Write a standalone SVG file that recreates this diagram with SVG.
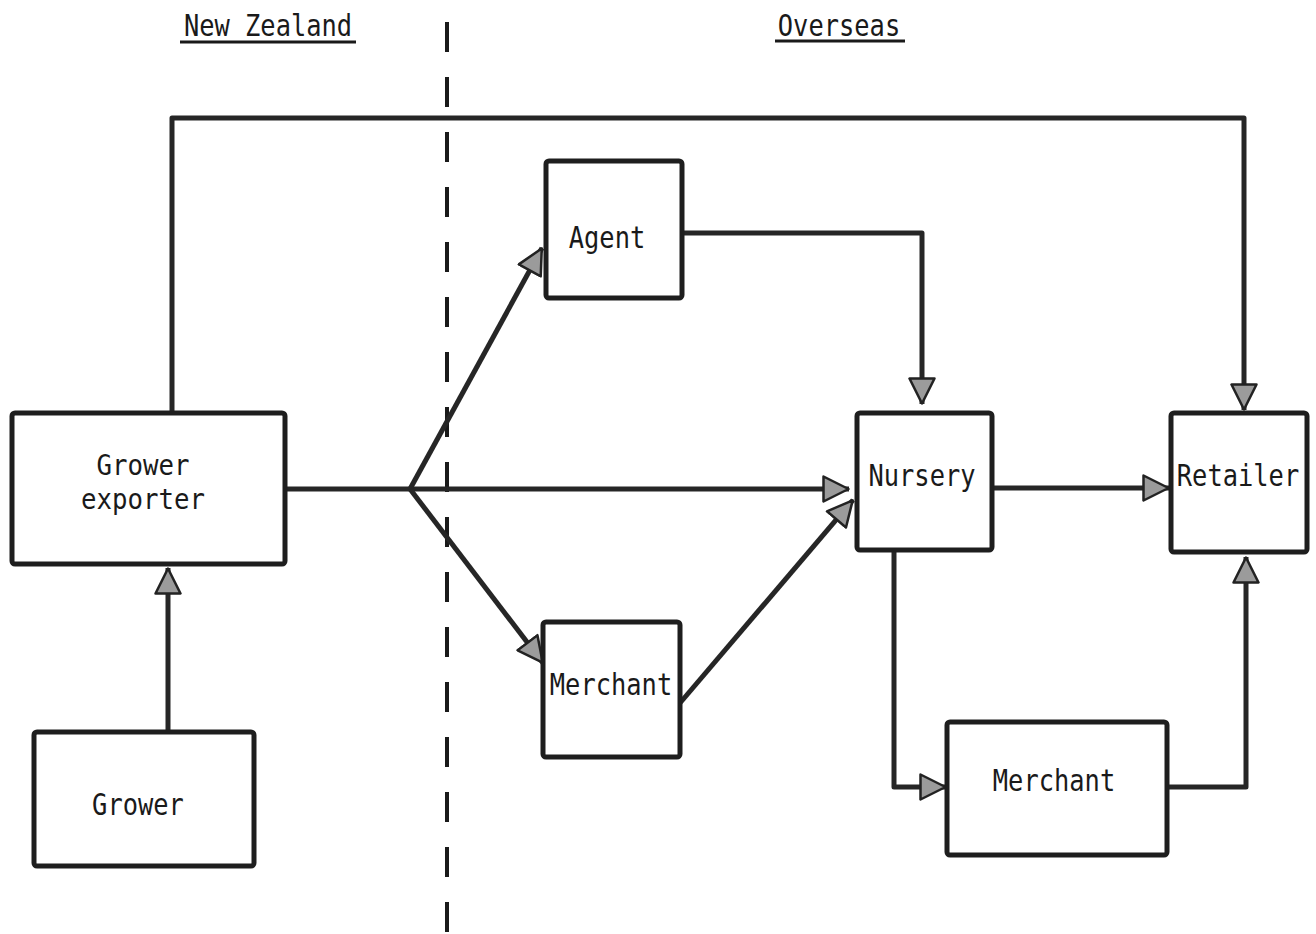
<svg xmlns="http://www.w3.org/2000/svg" width="1316" height="934" viewBox="0 0 1316 934">
<style>
.box{fill:#fff;stroke:#1e1e1e;stroke-width:5;stroke-linejoin:round}
.lbl{font-family:"DejaVu Sans Mono","Liberation Mono",monospace;font-size:31px;fill:#1a1a1a;text-anchor:middle}
.sm{font-size:28px}
.con{fill:none;stroke:#262626;stroke-width:5;stroke-linejoin:round}
.ul{stroke:#1a1a1a;stroke-width:3}
</style>
<defs>
<marker id="arr" viewBox="0 0 28 28" refX="27" refY="14" markerWidth="28" markerHeight="28" markerUnits="userSpaceOnUse" orient="auto">
<path d="M1.5,1.5 L26.5,14 L1.5,26.5 Z" fill="#9b9b9b" stroke="#222" stroke-width="2.5" stroke-linejoin="round"/>
</marker>
</defs>
<rect width="1316" height="934" fill="#fff"/>
<g id="headers">
<text class="lbl" transform="translate(268,36) scale(0.82,1)">New Zealand</text>
<line class="ul" x1="180" y1="42" x2="356" y2="42"/>
<text class="lbl" transform="translate(839,36) scale(0.82,1)">Overseas</text>
<line class="ul" x1="775" y1="41" x2="905" y2="41"/>
<line x1="447" y1="22" x2="447" y2="934" stroke="#1a1a1a" stroke-width="4" stroke-dasharray="30 25"/>
</g>
<g id="connectors">
<path class="con" d="M168,732 V568" marker-end="url(#arr)"/>
<path class="con" d="M172,413 V118 H1244 V410" marker-end="url(#arr)"/>
<path class="con" d="M285,489 H410"/>
<path class="con" d="M410,489 H849" marker-end="url(#arr)"/>
<path class="con" d="M410,489 L542,248" marker-end="url(#arr)"/>
<path class="con" d="M410,489 L543,663" marker-end="url(#arr)"/>
<path class="con" d="M680,703 L853,500" marker-end="url(#arr)"/>
<path class="con" d="M683,233 H922 V404" marker-end="url(#arr)"/>
<path class="con" d="M992,488 H1169" marker-end="url(#arr)"/>
<path class="con" d="M894,550 V787 H946" marker-end="url(#arr)"/>
<path class="con" d="M1167,787 H1246 V557" marker-end="url(#arr)"/>
</g>
<g id="grower-exporter">
<rect class="box" x="12" y="413" width="273" height="151" rx="3"/>
<text class="lbl sm" transform="translate(143,475) scale(0.92,1)">Grower</text>
<text class="lbl sm" transform="translate(143,509) scale(0.92,1)">exporter</text>
</g>
<g id="grower">
<rect class="box" x="34" y="732" width="220" height="134" rx="3"/>
<text class="lbl" transform="translate(138,815) scale(0.82,1)">Grower</text>
</g>
<g id="agent">
<rect class="box" x="546" y="161" width="136" height="137" rx="3"/>
<text class="lbl" transform="translate(607,248) scale(0.82,1)">Agent</text>
</g>
<g id="merchant-1">
<rect class="box" x="543" y="622" width="137" height="135" rx="3"/>
<text class="lbl" transform="translate(611,695) scale(0.82,1)">Merchant</text>
</g>
<g id="nursery">
<rect class="box" x="857" y="413" width="135" height="137" rx="3"/>
<text class="lbl" transform="translate(922,486) scale(0.82,1)">Nursery</text>
</g>
<g id="retailer">
<rect class="box" x="1171" y="413" width="136" height="139" rx="3"/>
<text class="lbl" transform="translate(1238,486) scale(0.82,1)">Retailer</text>
</g>
<g id="merchant-2">
<rect class="box" x="947" y="722" width="220" height="133" rx="3"/>
<text class="lbl" transform="translate(1054,791) scale(0.82,1)">Merchant</text>
</g>
</svg>
